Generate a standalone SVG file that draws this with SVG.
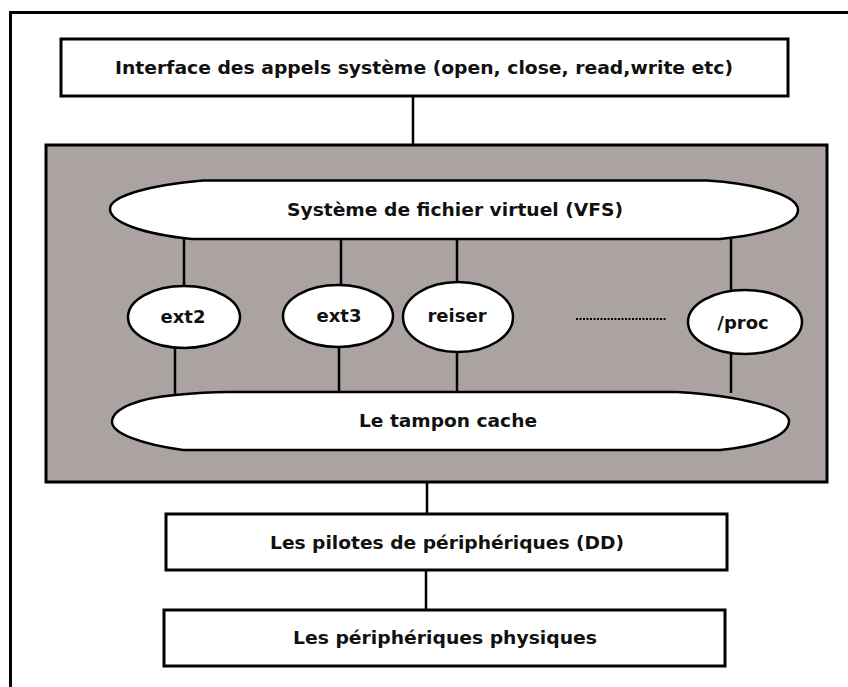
<svg xmlns="http://www.w3.org/2000/svg" width="848" height="687" viewBox="0 0 848 687">
  <style>
    .box { fill: #ffffff; stroke: #000000; stroke-width: 3; }
    .panel { fill: #aaa3a2; stroke: #000000; stroke-width: 3; }
    .oval { fill: #ffffff; stroke: #000000; stroke-width: 2.5; }
    .wire { stroke: #000000; stroke-width: 2.5; fill: none; }
    .dots { stroke: #000000; stroke-width: 2; stroke-dasharray: 2 1.5; fill: none; }
    .frame { stroke: #000000; stroke-width: 3; fill: none; }
    text { font-family: "DejaVu Sans", "Liberation Sans", sans-serif; font-weight: bold; font-size: 18px; fill: #111111; text-anchor: middle; }
  </style>

  <rect width="848" height="687" fill="#ffffff"/>
  <!-- outer frame -->
  <path class="frame" d="M10.5,700 V12.5 H860"/>

  <!-- kernel block background -->
  <rect id="kernel-panel" class="panel" x="46" y="145" width="781" height="337"/>

  <!-- connectors -->
  <g id="connectors">
    <line class="wire" x1="413" y1="96" x2="413" y2="145"/>
    <line class="wire" x1="184" y1="239" x2="184" y2="287"/>
    <line class="wire" x1="341" y1="239" x2="341" y2="286"/>
    <line class="wire" x1="457" y1="239" x2="457" y2="282"/>
    <line class="wire" x1="731" y1="239" x2="731" y2="291"/>
    <line class="wire" x1="175" y1="347" x2="175" y2="395"/>
    <line class="wire" x1="339" y1="347" x2="339" y2="393"/>
    <line class="wire" x1="457" y1="352" x2="457" y2="393"/>
    <line class="wire" x1="731" y1="354" x2="731" y2="393"/>
    <line class="wire" x1="427" y1="482" x2="427" y2="514"/>
    <line class="wire" x1="426" y1="570" x2="426" y2="610"/>
    <line class="dots" x1="576" y1="319" x2="667" y2="319"/>
  </g>

  <g id="syscall-interface">
    <rect class="box" x="61" y="39" width="727" height="57"/>
    <text x="424" y="74" textLength="618" lengthAdjust="spacingAndGlyphs">Interface des appels système (open, close, read,write etc)</text>
  </g>

  <g id="vfs">
    <path class="oval" d="M203,180.5 H707 C760,184 798,196 798,210 C798,225 762,235 720,239 H192 C142,234 110,222 110,209 C110,196 150,185 203,180.5 Z"/>
    <text x="455" y="216" textLength="336" lengthAdjust="spacingAndGlyphs">Système de fichier virtuel (VFS)</text>
  </g>

  <g id="ext2">
    <ellipse class="oval" cx="184" cy="317" rx="56" ry="31"/>
    <text x="183" y="323">ext2</text>
  </g>

  <g id="ext3">
    <ellipse class="oval" cx="338" cy="316" rx="55" ry="31"/>
    <text x="339" y="322">ext3</text>
  </g>

  <g id="reiser">
    <ellipse class="oval" cx="458" cy="317" rx="55" ry="35"/>
    <text x="457" y="322">reiser</text>
  </g>

  <g id="proc">
    <ellipse class="oval" cx="745" cy="322" rx="57" ry="32"/>
    <text x="743" y="329">/proc</text>
  </g>

  <g id="buffer-cache">
    <path class="oval" d="M227,392 H677 C740,396 789,408 789,421 C789,436 760,446 720,450 H183 C140,444 112,433 112,422 C112,408 140,398 175,395 C195,393 210,392 227,392 Z"/>
    <text x="448" y="427" textLength="178" lengthAdjust="spacingAndGlyphs">Le tampon cache</text>
  </g>

  <g id="device-drivers">
    <rect class="box" x="166" y="514" width="561" height="56"/>
    <text x="447" y="549" textLength="354" lengthAdjust="spacingAndGlyphs">Les pilotes de périphériques (DD)</text>
  </g>

  <g id="physical-devices">
    <rect class="box" x="164" y="610" width="561" height="56"/>
    <text x="445" y="644" textLength="304" lengthAdjust="spacingAndGlyphs">Les périphériques physiques</text>
  </g>
</svg>
